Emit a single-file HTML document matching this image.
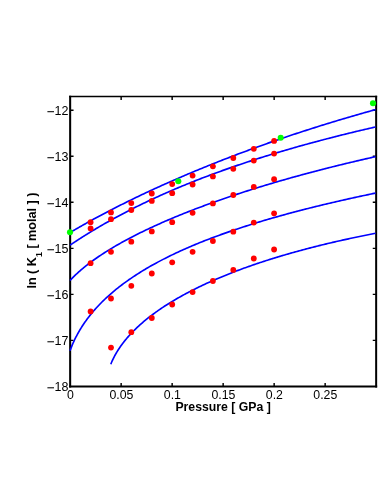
<!DOCTYPE html><html><head><meta charset="utf-8"><style>html,body{margin:0;padding:0;background:#fff}body{width:382px;height:494px;overflow:hidden;position:relative}svg{position:absolute;left:0;top:0}text{font-family:"Liberation Sans",sans-serif;fill:#000}</style></head><body>
<svg width="382" height="494" viewBox="0 0 382 494">
<rect x="0" y="0" width="382" height="494" fill="#fff"/>
<path d="M70.15 95.70 V387.40" stroke="#000" stroke-width="2.05" fill="none"/>
<path d="M376.15 95.70 V387.40" stroke="#000" stroke-width="2.0" fill="none"/>
<path d="M69.15 96.50 H377.15" stroke="#000" stroke-width="1.7" fill="none"/>
<path d="M69.15 386.40 H377.15" stroke="#000" stroke-width="2.0" fill="none"/>
<path d="M70.15 340.38 h3.4 M376.15 340.38 h-3.4" stroke="#000" stroke-width="1.45"/>
<path d="M70.15 294.37 h3.4 M376.15 294.37 h-3.4" stroke="#000" stroke-width="1.45"/>
<path d="M70.15 248.35 h3.4 M376.15 248.35 h-3.4" stroke="#000" stroke-width="1.45"/>
<path d="M70.15 202.33 h3.4 M376.15 202.33 h-3.4" stroke="#000" stroke-width="1.45"/>
<path d="M70.15 156.32 h3.4 M376.15 156.32 h-3.4" stroke="#000" stroke-width="1.45"/>
<path d="M70.15 110.30 h3.4 M376.15 110.30 h-3.4" stroke="#000" stroke-width="1.45"/>
<path d="M121.15 386.40 v-3.4 M121.15 96.50 v3.4" stroke="#000" stroke-width="1.45"/>
<path d="M172.15 386.40 v-3.4 M172.15 96.50 v3.4" stroke="#000" stroke-width="1.45"/>
<path d="M223.15 386.40 v-3.4 M223.15 96.50 v3.4" stroke="#000" stroke-width="1.45"/>
<path d="M274.15 386.40 v-3.4 M274.15 96.50 v3.4" stroke="#000" stroke-width="1.45"/>
<path d="M325.15 386.40 v-3.4 M325.15 96.50 v3.4" stroke="#000" stroke-width="1.45"/>
<path d="M70.00 232.51 L70.50 232.23 L71.00 231.95 L71.50 231.66 L72.00 231.37 L72.50 231.08 L73.00 230.80 L73.50 230.51 L74.00 230.22 L74.50 229.93 L75.00 229.64 L75.50 229.35 L76.00 229.07 L76.50 228.78 L77.00 228.49 L77.50 228.21 L78.00 227.92 L78.50 227.63 L79.00 227.35 L79.50 227.06 L80.00 226.78 L80.50 226.49 L81.00 226.21 L81.50 225.92 L82.00 225.64 L82.50 225.36 L83.00 225.08 L83.50 224.79 L84.00 224.51 L84.50 224.23 L85.00 223.95 L85.50 223.67 L86.00 223.39 L86.50 223.11 L87.00 222.83 L87.50 222.56 L88.00 222.28 L88.50 222.00 L89.00 221.72 L89.50 221.45 L90.00 221.17 L90.50 220.90 L91.93 220.11 L93.36 219.33 L94.80 218.55 L96.23 217.77 L97.66 217.00 L99.09 216.23 L100.53 215.47 L101.96 214.71 L103.39 213.95 L104.82 213.19 L106.26 212.44 L107.69 211.69 L109.12 210.95 L110.55 210.21 L111.99 209.47 L113.42 208.73 L114.85 208.00 L116.28 207.27 L117.72 206.54 L119.15 205.82 L120.58 205.10 L122.01 204.38 L123.45 203.66 L124.88 202.95 L126.31 202.24 L127.74 201.54 L129.18 200.83 L130.61 200.13 L132.04 199.43 L133.47 198.74 L134.90 198.05 L136.34 197.36 L137.77 196.67 L139.20 195.98 L140.63 195.30 L142.07 194.62 L143.50 193.94 L144.93 193.27 L146.36 192.60 L147.80 191.93 L149.23 191.26 L150.66 190.59 L152.09 189.93 L153.53 189.27 L154.96 188.61 L156.39 187.96 L157.82 187.31 L159.26 186.65 L160.69 186.01 L162.12 185.36 L163.55 184.72 L164.99 184.08 L166.42 183.44 L167.85 182.80 L169.28 182.16 L170.72 181.53 L172.15 180.90 L173.58 180.27 L175.01 179.65 L176.44 179.02 L177.88 178.40 L179.31 177.78 L180.74 177.17 L182.17 176.55 L183.61 175.94 L185.04 175.33 L186.47 174.72 L187.90 174.11 L189.34 173.51 L190.77 172.90 L192.20 172.30 L193.63 171.71 L195.07 171.11 L196.50 170.51 L197.93 169.92 L199.36 169.33 L200.80 168.74 L202.23 168.16 L203.66 167.57 L205.09 166.99 L206.53 166.41 L207.96 165.83 L209.39 165.25 L210.82 164.68 L212.26 164.10 L213.69 163.53 L215.12 162.96 L216.55 162.40 L217.98 161.83 L219.42 161.27 L220.85 160.70 L222.28 160.14 L223.71 159.59 L225.15 159.03 L226.58 158.48 L228.01 157.92 L229.44 157.37 L230.88 156.82 L232.31 156.27 L233.74 155.73 L235.17 155.19 L236.61 154.64 L238.04 154.10 L239.47 153.56 L240.90 153.03 L242.34 152.49 L243.77 151.96 L245.20 151.43 L246.63 150.90 L248.07 150.37 L249.50 149.84 L250.93 149.32 L252.36 148.80 L253.79 148.28 L255.23 147.76 L256.66 147.24 L258.09 146.72 L259.52 146.21 L260.96 145.69 L262.39 145.18 L263.82 144.67 L265.25 144.17 L266.69 143.66 L268.12 143.15 L269.55 142.65 L270.98 142.15 L272.42 141.65 L273.85 141.15 L275.28 140.66 L276.71 140.16 L278.15 139.67 L279.58 139.17 L281.01 138.68 L282.44 138.20 L283.88 137.71 L285.31 137.22 L286.74 136.74 L288.17 136.26 L289.61 135.78 L291.04 135.30 L292.47 134.82 L293.90 134.34 L295.33 133.87 L296.77 133.40 L298.20 132.92 L299.63 132.45 L301.06 131.99 L302.50 131.52 L303.93 131.05 L305.36 130.59 L306.79 130.13 L308.23 129.67 L309.66 129.21 L311.09 128.75 L312.52 128.29 L313.96 127.84 L315.39 127.38 L316.82 126.93 L318.25 126.48 L319.69 126.03 L321.12 125.58 L322.55 125.14 L323.98 124.69 L325.42 124.25 L326.85 123.81 L328.28 123.37 L329.71 122.93 L331.15 122.49 L332.58 122.05 L334.01 121.62 L335.44 121.18 L336.87 120.75 L338.31 120.32 L339.74 119.89 L341.17 119.47 L342.60 119.04 L344.04 118.61 L345.47 118.19 L346.90 117.77 L348.33 117.35 L349.77 116.93 L351.20 116.51 L352.63 116.09 L354.06 115.68 L355.50 115.27 L356.93 114.85 L358.36 114.44 L359.79 114.03 L361.23 113.62 L362.66 113.22 L364.09 112.81 L365.52 112.41 L366.96 112.00 L368.39 111.60 L369.82 111.20 L371.25 110.80 L372.69 110.41 L374.12 110.01 L375.55 109.62" fill="none" stroke="#0000ff" stroke-width="1.65" stroke-linejoin="round"/>
<path d="M70.00 245.17 L70.50 244.84 L71.00 244.50 L71.50 244.17 L72.00 243.83 L72.50 243.50 L73.00 243.17 L73.50 242.83 L74.00 242.50 L74.50 242.17 L75.00 241.84 L75.50 241.51 L76.00 241.19 L76.50 240.86 L77.00 240.53 L77.50 240.21 L78.00 239.88 L78.50 239.56 L79.00 239.24 L79.50 238.91 L80.00 238.59 L80.50 238.27 L81.00 237.95 L81.50 237.63 L82.00 237.32 L82.50 237.00 L83.00 236.68 L83.50 236.37 L84.00 236.05 L84.50 235.74 L85.00 235.42 L85.50 235.11 L86.00 234.80 L86.50 234.49 L87.00 234.18 L87.50 233.87 L88.00 233.56 L88.50 233.25 L89.00 232.94 L89.50 232.64 L90.00 232.33 L90.50 232.03 L91.93 231.16 L93.36 230.29 L94.80 229.43 L96.23 228.58 L97.66 227.73 L99.09 226.89 L100.53 226.06 L101.96 225.23 L103.39 224.40 L104.82 223.58 L106.26 222.77 L107.69 221.96 L109.12 221.16 L110.55 220.36 L111.99 219.57 L113.42 218.78 L114.85 218.00 L116.28 217.22 L117.72 216.45 L119.15 215.68 L120.58 214.92 L122.01 214.16 L123.45 213.41 L124.88 212.66 L126.31 211.91 L127.74 211.17 L129.18 210.44 L130.61 209.71 L132.04 208.98 L133.47 208.26 L134.90 207.54 L136.34 206.83 L137.77 206.12 L139.20 205.42 L140.63 204.72 L142.07 204.02 L143.50 203.33 L144.93 202.64 L146.36 201.96 L147.80 201.28 L149.23 200.60 L150.66 199.93 L152.09 199.26 L153.53 198.60 L154.96 197.94 L156.39 197.28 L157.82 196.63 L159.26 195.98 L160.69 195.34 L162.12 194.70 L163.55 194.06 L164.99 193.42 L166.42 192.79 L167.85 192.16 L169.28 191.54 L170.72 190.92 L172.15 190.30 L173.58 189.69 L175.01 189.08 L176.44 188.47 L177.88 187.87 L179.31 187.27 L180.74 186.67 L182.17 186.08 L183.61 185.49 L185.04 184.90 L186.47 184.31 L187.90 183.73 L189.34 183.15 L190.77 182.58 L192.20 182.01 L193.63 181.44 L195.07 180.87 L196.50 180.31 L197.93 179.75 L199.36 179.19 L200.80 178.64 L202.23 178.08 L203.66 177.54 L205.09 176.99 L206.53 176.45 L207.96 175.91 L209.39 175.37 L210.82 174.83 L212.26 174.30 L213.69 173.77 L215.12 173.24 L216.55 172.72 L217.98 172.20 L219.42 171.68 L220.85 171.16 L222.28 170.65 L223.71 170.14 L225.15 169.63 L226.58 169.12 L228.01 168.62 L229.44 168.11 L230.88 167.61 L232.31 167.12 L233.74 166.62 L235.17 166.13 L236.61 165.64 L238.04 165.15 L239.47 164.67 L240.90 164.19 L242.34 163.70 L243.77 163.23 L245.20 162.75 L246.63 162.28 L248.07 161.80 L249.50 161.34 L250.93 160.87 L252.36 160.40 L253.79 159.94 L255.23 159.48 L256.66 159.02 L258.09 158.56 L259.52 158.11 L260.96 157.66 L262.39 157.21 L263.82 156.76 L265.25 156.31 L266.69 155.87 L268.12 155.42 L269.55 154.98 L270.98 154.54 L272.42 154.11 L273.85 153.67 L275.28 153.24 L276.71 152.81 L278.15 152.38 L279.58 151.95 L281.01 151.53 L282.44 151.10 L283.88 150.68 L285.31 150.26 L286.74 149.84 L288.17 149.43 L289.61 149.01 L291.04 148.60 L292.47 148.19 L293.90 147.78 L295.33 147.37 L296.77 146.97 L298.20 146.56 L299.63 146.16 L301.06 145.76 L302.50 145.36 L303.93 144.96 L305.36 144.57 L306.79 144.17 L308.23 143.78 L309.66 143.39 L311.09 143.00 L312.52 142.61 L313.96 142.23 L315.39 141.84 L316.82 141.46 L318.25 141.08 L319.69 140.70 L321.12 140.32 L322.55 139.94 L323.98 139.57 L325.42 139.19 L326.85 138.82 L328.28 138.45 L329.71 138.08 L331.15 137.71 L332.58 137.35 L334.01 136.98 L335.44 136.62 L336.87 136.25 L338.31 135.89 L339.74 135.53 L341.17 135.17 L342.60 134.82 L344.04 134.46 L345.47 134.11 L346.90 133.76 L348.33 133.40 L349.77 133.05 L351.20 132.70 L352.63 132.36 L354.06 132.01 L355.50 131.67 L356.93 131.32 L358.36 130.98 L359.79 130.64 L361.23 130.30 L362.66 129.96 L364.09 129.62 L365.52 129.29 L366.96 128.95 L368.39 128.62 L369.82 128.29 L371.25 127.95 L372.69 127.62 L374.12 127.29 L375.55 126.97" fill="none" stroke="#0000ff" stroke-width="1.65" stroke-linejoin="round"/>
<path d="M70.00 280.56 L70.50 280.01 L71.00 279.48 L71.50 278.94 L72.00 278.42 L72.50 277.90 L73.00 277.39 L73.50 276.89 L74.00 276.39 L74.50 275.90 L75.00 275.41 L75.50 274.93 L76.00 274.45 L76.50 273.98 L77.00 273.52 L77.50 273.06 L78.00 272.60 L78.50 272.15 L79.00 271.70 L79.50 271.26 L80.00 270.82 L80.50 270.38 L81.00 269.95 L81.50 269.52 L82.00 269.10 L82.50 268.68 L83.00 268.26 L83.50 267.85 L84.00 267.44 L84.50 267.03 L85.00 266.63 L85.50 266.23 L86.00 265.83 L86.50 265.43 L87.00 265.04 L87.50 264.65 L88.00 264.27 L88.50 263.88 L89.00 263.50 L89.50 263.12 L90.00 262.75 L90.50 262.37 L91.93 261.31 L93.36 260.28 L94.80 259.25 L96.23 258.25 L97.66 257.26 L99.09 256.29 L100.53 255.33 L101.96 254.38 L103.39 253.45 L104.82 252.53 L106.26 251.62 L107.69 250.73 L109.12 249.84 L110.55 248.97 L111.99 248.11 L113.42 247.25 L114.85 246.41 L116.28 245.58 L117.72 244.75 L119.15 243.94 L120.58 243.13 L122.01 242.33 L123.45 241.54 L124.88 240.76 L126.31 239.98 L127.74 239.21 L129.18 238.45 L130.61 237.70 L132.04 236.95 L133.47 236.21 L134.90 235.48 L136.34 234.75 L137.77 234.03 L139.20 233.32 L140.63 232.61 L142.07 231.90 L143.50 231.21 L144.93 230.52 L146.36 229.83 L147.80 229.15 L149.23 228.47 L150.66 227.80 L152.09 227.14 L153.53 226.47 L154.96 225.82 L156.39 225.17 L157.82 224.52 L159.26 223.88 L160.69 223.24 L162.12 222.61 L163.55 221.98 L164.99 221.35 L166.42 220.73 L167.85 220.12 L169.28 219.50 L170.72 218.90 L172.15 218.29 L173.58 217.69 L175.01 217.09 L176.44 216.50 L177.88 215.91 L179.31 215.32 L180.74 214.74 L182.17 214.16 L183.61 213.59 L185.04 213.01 L186.47 212.45 L187.90 211.88 L189.34 211.32 L190.77 210.76 L192.20 210.20 L193.63 209.65 L195.07 209.10 L196.50 208.55 L197.93 208.01 L199.36 207.47 L200.80 206.93 L202.23 206.40 L203.66 205.87 L205.09 205.34 L206.53 204.81 L207.96 204.29 L209.39 203.77 L210.82 203.25 L212.26 202.73 L213.69 202.22 L215.12 201.71 L216.55 201.20 L217.98 200.70 L219.42 200.20 L220.85 199.70 L222.28 199.20 L223.71 198.70 L225.15 198.21 L226.58 197.72 L228.01 197.23 L229.44 196.75 L230.88 196.26 L232.31 195.78 L233.74 195.30 L235.17 194.83 L236.61 194.35 L238.04 193.88 L239.47 193.41 L240.90 192.95 L242.34 192.48 L243.77 192.02 L245.20 191.56 L246.63 191.10 L248.07 190.64 L249.50 190.19 L250.93 189.73 L252.36 189.28 L253.79 188.83 L255.23 188.39 L256.66 187.94 L258.09 187.50 L259.52 187.06 L260.96 186.62 L262.39 186.18 L263.82 185.75 L265.25 185.31 L266.69 184.88 L268.12 184.45 L269.55 184.02 L270.98 183.60 L272.42 183.17 L273.85 182.75 L275.28 182.33 L276.71 181.91 L278.15 181.49 L279.58 181.08 L281.01 180.66 L282.44 180.25 L283.88 179.84 L285.31 179.43 L286.74 179.03 L288.17 178.62 L289.61 178.22 L291.04 177.82 L292.47 177.41 L293.90 177.02 L295.33 176.62 L296.77 176.22 L298.20 175.83 L299.63 175.44 L301.06 175.05 L302.50 174.66 L303.93 174.27 L305.36 173.88 L306.79 173.50 L308.23 173.11 L309.66 172.73 L311.09 172.35 L312.52 171.97 L313.96 171.60 L315.39 171.22 L316.82 170.85 L318.25 170.47 L319.69 170.10 L321.12 169.73 L322.55 169.36 L323.98 168.99 L325.42 168.63 L326.85 168.26 L328.28 167.90 L329.71 167.54 L331.15 167.18 L332.58 166.82 L334.01 166.46 L335.44 166.11 L336.87 165.75 L338.31 165.40 L339.74 165.04 L341.17 164.69 L342.60 164.34 L344.04 163.99 L345.47 163.65 L346.90 163.30 L348.33 162.96 L349.77 162.61 L351.20 162.27 L352.63 161.93 L354.06 161.59 L355.50 161.25 L356.93 160.92 L358.36 160.58 L359.79 160.24 L361.23 159.91 L362.66 159.58 L364.09 159.25 L365.52 158.92 L366.96 158.59 L368.39 158.26 L369.82 157.94 L371.25 157.61 L372.69 157.29 L374.12 156.96 L375.55 156.64" fill="none" stroke="#0000ff" stroke-width="1.65" stroke-linejoin="round"/>
<path d="M70.00 350.73 L70.50 349.38 L71.00 348.08 L71.50 346.83 L72.00 345.61 L72.50 344.43 L73.00 343.28 L73.50 342.16 L74.00 341.08 L74.50 340.02 L75.00 338.98 L75.50 337.97 L76.00 336.99 L76.50 336.02 L77.00 335.08 L77.50 334.15 L78.00 333.24 L78.50 332.35 L79.00 331.48 L79.50 330.62 L80.00 329.78 L80.50 328.95 L81.00 328.14 L81.50 327.34 L82.00 326.55 L82.50 325.78 L83.00 325.01 L83.50 324.26 L84.00 323.52 L84.50 322.79 L85.00 322.07 L85.50 321.36 L86.00 320.66 L86.50 319.97 L87.00 319.29 L87.50 318.61 L88.00 317.95 L88.50 317.29 L89.00 316.64 L89.50 316.00 L90.00 315.37 L90.50 314.74 L91.93 312.99 L93.36 311.28 L94.80 309.63 L96.23 308.03 L97.66 306.47 L99.09 304.95 L100.53 303.46 L101.96 302.02 L103.39 300.61 L104.82 299.23 L106.26 297.88 L107.69 296.57 L109.12 295.28 L110.55 294.01 L111.99 292.78 L113.42 291.56 L114.85 290.37 L116.28 289.20 L117.72 288.06 L119.15 286.93 L120.58 285.82 L122.01 284.73 L123.45 283.66 L124.88 282.61 L126.31 281.58 L127.74 280.56 L129.18 279.55 L130.61 278.57 L132.04 277.59 L133.47 276.63 L134.90 275.69 L136.34 274.76 L137.77 273.84 L139.20 272.93 L140.63 272.04 L142.07 271.15 L143.50 270.28 L144.93 269.42 L146.36 268.57 L147.80 267.74 L149.23 266.91 L150.66 266.09 L152.09 265.28 L153.53 264.48 L154.96 263.69 L156.39 262.91 L157.82 262.14 L159.26 261.38 L160.69 260.63 L162.12 259.88 L163.55 259.14 L164.99 258.41 L166.42 257.69 L167.85 256.97 L169.28 256.27 L170.72 255.56 L172.15 254.87 L173.58 254.18 L175.01 253.50 L176.44 252.83 L177.88 252.16 L179.31 251.50 L180.74 250.85 L182.17 250.20 L183.61 249.56 L185.04 248.92 L186.47 248.29 L187.90 247.67 L189.34 247.05 L190.77 246.43 L192.20 245.83 L193.63 245.22 L195.07 244.62 L196.50 244.03 L197.93 243.44 L199.36 242.86 L200.80 242.28 L202.23 241.71 L203.66 241.14 L205.09 240.57 L206.53 240.01 L207.96 239.46 L209.39 238.90 L210.82 238.36 L212.26 237.81 L213.69 237.27 L215.12 236.74 L216.55 236.21 L217.98 235.68 L219.42 235.16 L220.85 234.64 L222.28 234.12 L223.71 233.61 L225.15 233.10 L226.58 232.60 L228.01 232.10 L229.44 231.60 L230.88 231.10 L232.31 230.61 L233.74 230.13 L235.17 229.64 L236.61 229.16 L238.04 228.68 L239.47 228.21 L240.90 227.74 L242.34 227.27 L243.77 226.80 L245.20 226.34 L246.63 225.88 L248.07 225.42 L249.50 224.97 L250.93 224.52 L252.36 224.07 L253.79 223.62 L255.23 223.18 L256.66 222.74 L258.09 222.30 L259.52 221.87 L260.96 221.44 L262.39 221.01 L263.82 220.58 L265.25 220.15 L266.69 219.73 L268.12 219.31 L269.55 218.90 L270.98 218.48 L272.42 218.07 L273.85 217.66 L275.28 217.25 L276.71 216.84 L278.15 216.44 L279.58 216.04 L281.01 215.64 L282.44 215.24 L283.88 214.85 L285.31 214.45 L286.74 214.06 L288.17 213.67 L289.61 213.29 L291.04 212.90 L292.47 212.52 L293.90 212.14 L295.33 211.76 L296.77 211.38 L298.20 211.01 L299.63 210.63 L301.06 210.26 L302.50 209.89 L303.93 209.52 L305.36 209.16 L306.79 208.79 L308.23 208.43 L309.66 208.07 L311.09 207.71 L312.52 207.35 L313.96 207.00 L315.39 206.64 L316.82 206.29 L318.25 205.94 L319.69 205.59 L321.12 205.25 L322.55 204.90 L323.98 204.55 L325.42 204.21 L326.85 203.87 L328.28 203.53 L329.71 203.19 L331.15 202.86 L332.58 202.52 L334.01 202.19 L335.44 201.85 L336.87 201.52 L338.31 201.19 L339.74 200.87 L341.17 200.54 L342.60 200.21 L344.04 199.89 L345.47 199.57 L346.90 199.25 L348.33 198.93 L349.77 198.61 L351.20 198.29 L352.63 197.97 L354.06 197.66 L355.50 197.35 L356.93 197.03 L358.36 196.72 L359.79 196.41 L361.23 196.11 L362.66 195.80 L364.09 195.49 L365.52 195.19 L366.96 194.88 L368.39 194.58 L369.82 194.28 L371.25 193.98 L372.69 193.68 L374.12 193.38 L375.55 193.08" fill="none" stroke="#0000ff" stroke-width="1.65" stroke-linejoin="round"/>
<path d="M110.80 364.19 L111.30 362.97 L111.80 361.80 L112.30 360.68 L112.80 359.60 L113.30 358.57 L113.80 357.57 L114.30 356.60 L114.80 355.66 L115.30 354.75 L115.80 353.86 L116.30 353.00 L116.80 352.15 L117.30 351.33 L117.80 350.53 L118.30 349.74 L118.80 348.97 L119.30 348.22 L119.80 347.48 L120.30 346.75 L120.80 346.04 L121.30 345.34 L121.80 344.65 L122.30 343.97 L122.80 343.31 L123.30 342.65 L123.80 342.01 L124.30 341.37 L124.80 340.75 L125.30 340.13 L125.80 339.52 L126.30 338.92 L126.80 338.33 L127.30 337.74 L127.80 337.16 L128.30 336.59 L128.80 336.03 L129.30 335.47 L129.80 334.92 L130.30 334.38 L130.80 333.84 L131.30 333.31 L132.53 332.03 L133.75 330.78 L134.98 329.56 L136.21 328.37 L137.44 327.20 L138.66 326.06 L139.89 324.95 L141.12 323.86 L142.35 322.79 L143.57 321.74 L144.80 320.71 L146.03 319.69 L147.26 318.70 L148.48 317.72 L149.71 316.76 L150.94 315.82 L152.17 314.89 L153.39 313.97 L154.62 313.07 L155.85 312.18 L157.08 311.30 L158.30 310.44 L159.53 309.59 L160.76 308.75 L161.98 307.92 L163.21 307.11 L164.44 306.30 L165.67 305.50 L166.89 304.72 L168.12 303.94 L169.35 303.18 L170.58 302.42 L171.80 301.67 L173.03 300.93 L174.26 300.20 L175.49 299.48 L176.71 298.76 L177.94 298.05 L179.17 297.35 L180.40 296.66 L181.62 295.98 L182.85 295.30 L184.08 294.63 L185.31 293.97 L186.53 293.31 L187.76 292.66 L188.99 292.02 L190.21 291.38 L191.44 290.75 L192.67 290.12 L193.90 289.50 L195.12 288.89 L196.35 288.28 L197.58 287.68 L198.81 287.08 L200.03 286.49 L201.26 285.90 L202.49 285.32 L203.72 284.74 L204.94 284.17 L206.17 283.61 L207.40 283.04 L208.63 282.49 L209.85 281.93 L211.08 281.39 L212.31 280.84 L213.53 280.30 L214.76 279.77 L215.99 279.24 L217.22 278.71 L218.44 278.19 L219.67 277.68 L220.90 277.16 L222.13 276.65 L223.35 276.15 L224.58 275.65 L225.81 275.15 L227.04 274.65 L228.26 274.16 L229.49 273.68 L230.72 273.19 L231.95 272.71 L233.17 272.24 L234.40 271.77 L235.63 271.30 L236.86 270.83 L238.08 270.37 L239.31 269.91 L240.54 269.45 L241.76 269.00 L242.99 268.55 L244.22 268.10 L245.45 267.66 L246.67 267.22 L247.90 266.78 L249.13 266.35 L250.36 265.92 L251.58 265.49 L252.81 265.06 L254.04 264.64 L255.27 264.22 L256.49 263.80 L257.72 263.39 L258.95 262.98 L260.18 262.57 L261.40 262.16 L262.63 261.76 L263.86 261.36 L265.09 260.96 L266.31 260.57 L267.54 260.17 L268.77 259.78 L269.99 259.39 L271.22 259.01 L272.45 258.62 L273.68 258.24 L274.90 257.86 L276.13 257.49 L277.36 257.11 L278.59 256.74 L279.81 256.37 L281.04 256.01 L282.27 255.64 L283.50 255.28 L284.72 254.92 L285.95 254.56 L287.18 254.21 L288.41 253.85 L289.63 253.50 L290.86 253.15 L292.09 252.80 L293.32 252.46 L294.54 252.11 L295.77 251.77 L297.00 251.43 L298.22 251.10 L299.45 250.76 L300.68 250.43 L301.91 250.10 L303.13 249.77 L304.36 249.44 L305.59 249.12 L306.82 248.79 L308.04 248.47 L309.27 248.15 L310.50 247.83 L311.73 247.52 L312.95 247.20 L314.18 246.89 L315.41 246.58 L316.64 246.27 L317.86 245.96 L319.09 245.66 L320.32 245.35 L321.54 245.05 L322.77 244.75 L324.00 244.45 L325.23 244.16 L326.45 243.86 L327.68 243.57 L328.91 243.28 L330.14 242.99 L331.36 242.70 L332.59 242.41 L333.82 242.12 L335.05 241.84 L336.27 241.56 L337.50 241.28 L338.73 241.00 L339.96 240.72 L341.18 240.45 L342.41 240.17 L343.64 239.90 L344.87 239.63 L346.09 239.36 L347.32 239.09 L348.55 238.82 L349.77 238.56 L351.00 238.29 L352.23 238.03 L353.46 237.77 L354.68 237.51 L355.91 237.25 L357.14 236.99 L358.37 236.74 L359.59 236.49 L360.82 236.23 L362.05 235.98 L363.28 235.73 L364.50 235.48 L365.73 235.24 L366.96 234.99 L368.19 234.75 L369.41 234.50 L370.64 234.26 L371.87 234.02 L373.10 233.78 L374.32 233.54 L375.55 233.31" fill="none" stroke="#0000ff" stroke-width="1.65" stroke-linejoin="round"/>
<circle cx="90.6" cy="222.2" r="2.9" fill="#ff0000"/>
<circle cx="111.0" cy="212.4" r="2.9" fill="#ff0000"/>
<circle cx="131.3" cy="203.1" r="2.9" fill="#ff0000"/>
<circle cx="151.8" cy="193.5" r="2.9" fill="#ff0000"/>
<circle cx="172.2" cy="184.1" r="2.9" fill="#ff0000"/>
<circle cx="192.6" cy="175.6" r="2.9" fill="#ff0000"/>
<circle cx="212.9" cy="166.3" r="2.9" fill="#ff0000"/>
<circle cx="233.3" cy="158.0" r="2.9" fill="#ff0000"/>
<circle cx="253.8" cy="148.8" r="2.9" fill="#ff0000"/>
<circle cx="274.1" cy="140.9" r="2.9" fill="#ff0000"/>
<circle cx="90.6" cy="228.4" r="2.9" fill="#ff0000"/>
<circle cx="111.0" cy="219.2" r="2.9" fill="#ff0000"/>
<circle cx="131.3" cy="210.0" r="2.9" fill="#ff0000"/>
<circle cx="151.8" cy="200.9" r="2.9" fill="#ff0000"/>
<circle cx="172.2" cy="193.2" r="2.9" fill="#ff0000"/>
<circle cx="192.6" cy="184.5" r="2.9" fill="#ff0000"/>
<circle cx="212.9" cy="176.4" r="2.9" fill="#ff0000"/>
<circle cx="233.3" cy="168.8" r="2.9" fill="#ff0000"/>
<circle cx="253.8" cy="160.6" r="2.9" fill="#ff0000"/>
<circle cx="274.1" cy="153.6" r="2.9" fill="#ff0000"/>
<circle cx="90.6" cy="263.2" r="2.9" fill="#ff0000"/>
<circle cx="111.0" cy="251.8" r="2.9" fill="#ff0000"/>
<circle cx="131.3" cy="241.7" r="2.9" fill="#ff0000"/>
<circle cx="151.8" cy="231.4" r="2.9" fill="#ff0000"/>
<circle cx="172.2" cy="222.2" r="2.9" fill="#ff0000"/>
<circle cx="192.6" cy="212.8" r="2.9" fill="#ff0000"/>
<circle cx="212.9" cy="203.4" r="2.9" fill="#ff0000"/>
<circle cx="233.3" cy="195.0" r="2.9" fill="#ff0000"/>
<circle cx="253.8" cy="186.9" r="2.9" fill="#ff0000"/>
<circle cx="274.1" cy="179.2" r="2.9" fill="#ff0000"/>
<circle cx="90.6" cy="311.4" r="2.9" fill="#ff0000"/>
<circle cx="111.0" cy="298.5" r="2.9" fill="#ff0000"/>
<circle cx="131.3" cy="285.8" r="2.9" fill="#ff0000"/>
<circle cx="151.8" cy="273.5" r="2.9" fill="#ff0000"/>
<circle cx="172.2" cy="262.3" r="2.9" fill="#ff0000"/>
<circle cx="192.6" cy="251.8" r="2.9" fill="#ff0000"/>
<circle cx="212.9" cy="241.0" r="2.9" fill="#ff0000"/>
<circle cx="233.3" cy="231.7" r="2.9" fill="#ff0000"/>
<circle cx="253.8" cy="222.6" r="2.9" fill="#ff0000"/>
<circle cx="274.1" cy="213.3" r="2.9" fill="#ff0000"/>
<circle cx="111.0" cy="347.6" r="2.9" fill="#ff0000"/>
<circle cx="131.3" cy="332.2" r="2.9" fill="#ff0000"/>
<circle cx="151.8" cy="318.0" r="2.9" fill="#ff0000"/>
<circle cx="172.2" cy="304.5" r="2.9" fill="#ff0000"/>
<circle cx="192.6" cy="292.1" r="2.9" fill="#ff0000"/>
<circle cx="212.9" cy="281.0" r="2.9" fill="#ff0000"/>
<circle cx="233.3" cy="269.9" r="2.9" fill="#ff0000"/>
<circle cx="253.8" cy="258.5" r="2.9" fill="#ff0000"/>
<circle cx="274.1" cy="249.5" r="2.9" fill="#ff0000"/>
<circle cx="70.0" cy="232.3" r="3.05" fill="#00ff00"/>
<circle cx="178.3" cy="181.2" r="3.05" fill="#00ff00"/>
<circle cx="280.7" cy="137.8" r="3.05" fill="#00ff00"/>
<circle cx="373.0" cy="103.2" r="3.05" fill="#00ff00"/>
<g style="filter:grayscale(1)">
<text x="68.4" y="390.7" font-size="12.5" text-anchor="end">18</text>
<path d="M47.4 387.80 H54.0" stroke="#000" stroke-width="1.05"/>
<text x="68.4" y="344.7" font-size="12.5" text-anchor="end">17</text>
<path d="M47.4 341.78 H54.0" stroke="#000" stroke-width="1.05"/>
<text x="68.4" y="298.7" font-size="12.5" text-anchor="end">16</text>
<path d="M47.4 295.77 H54.0" stroke="#000" stroke-width="1.05"/>
<text x="68.4" y="252.7" font-size="12.5" text-anchor="end">15</text>
<path d="M47.4 249.75 H54.0" stroke="#000" stroke-width="1.05"/>
<text x="68.4" y="206.6" font-size="12.5" text-anchor="end">14</text>
<path d="M47.4 203.73 H54.0" stroke="#000" stroke-width="1.05"/>
<text x="68.4" y="160.6" font-size="12.5" text-anchor="end">13</text>
<path d="M47.4 157.72 H54.0" stroke="#000" stroke-width="1.05"/>
<text x="68.4" y="114.6" font-size="12.5" text-anchor="end">12</text>
<path d="M47.4 111.70 H54.0" stroke="#000" stroke-width="1.05"/>
<text x="70.4" y="398.7" font-size="12.3" text-anchor="middle">0</text>
<text x="121.4" y="398.7" font-size="12.3" text-anchor="middle">0.05</text>
<text x="172.4" y="398.7" font-size="12.3" text-anchor="middle">0.1</text>
<text x="223.4" y="398.7" font-size="12.3" text-anchor="middle">0.15</text>
<text x="274.4" y="398.7" font-size="12.3" text-anchor="middle">0.2</text>
<text x="325.3" y="398.7" font-size="12.3" text-anchor="middle">0.25</text>
<text x="223.1" y="411.3" font-size="12.25" font-weight="bold" text-anchor="middle" xml:space="preserve">Pressure [ GPa ]</text>
<text transform="translate(36.2 240.6) rotate(-90)" font-size="12.6" font-weight="bold" text-anchor="middle" xml:space="preserve">ln ( K<tspan font-size="9" dy="5.9">1</tspan><tspan dy="-5.9"> [ molal ] )</tspan></text>
</g>
</svg></body></html>
